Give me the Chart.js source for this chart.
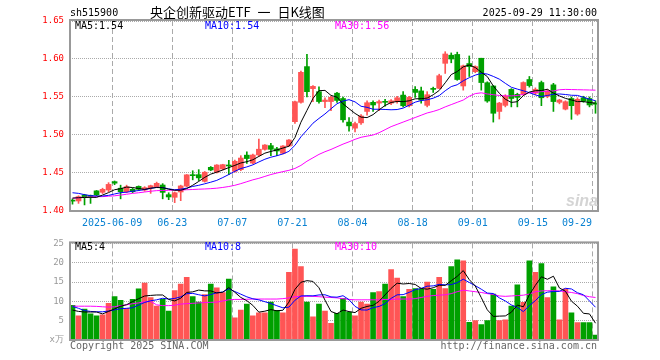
<!DOCTYPE html>
<html>
<head>
<meta charset="utf-8">
<script src="https://cdn.jsdelivr.net/npm/chart.js@4.4.1/dist/chart.umd.min.js"></script>
<style>
  body { margin: 0; width: 660px; height: 360px; background: #fff; position: relative; overflow: hidden; }
  canvas { position: absolute; left: 0; }
  .txt { position: absolute; font: 10px 'DejaVu Sans Mono', monospace; line-height: 1; white-space: pre; }
</style>
</head>
<body>
<canvas id="kline" width="660" height="232" style="top:0"></canvas>
<canvas id="volume" width="660" height="128" style="top:232px"></canvas>

<div class="txt" style="left:70px;top:8px;color:#000">sh515900</div>
<div class="txt" style="left:150px;top:5px;font-family:'Noto Sans CJK SC';font-size:13px;color:#000">央企创新驱动ETF <span style="margin:0 4px">一</span> 日K线图</div>
<div class="txt" style="right:63px;top:8px;color:#000">2025-09-29 11:30:00</div>
<div class="txt" style="left:75px;top:21px;color:#000">MA5:1.54</div>
<div class="txt" style="left:205px;top:21px;color:#0000ff">MA10:1.54</div>
<div class="txt" style="left:335px;top:21px;color:#ff00ff">MA30:1.56</div>
<div class="txt" style="left:75px;top:242px;color:#000">MA5:4</div>
<div class="txt" style="left:205px;top:242px;color:#0000ff">MA10:8</div>
<div class="txt" style="left:335px;top:242px;color:#ff00ff">MA30:10</div>
<div class="txt" style="left:70px;top:341px;color:#666">Copyright 2025 SINA.COM</div>
<div class="txt" style="right:63px;top:341px;color:#666">http://finance.sina.com.cn</div>
<div class="txt" style="left:566px;top:192px;font:italic bold 16px 'Liberation Sans';color:#d4d4d4">sina</div>

<script>
// trading days shown on the chart
const dates = [
  '2025-05-28','2025-05-29','2025-05-30','2025-06-03','2025-06-04','2025-06-05','2025-06-06',
  '2025-06-09','2025-06-10','2025-06-11','2025-06-12','2025-06-13',
  '2025-06-16','2025-06-17','2025-06-18','2025-06-19','2025-06-20',
  '2025-06-23','2025-06-24','2025-06-25','2025-06-26','2025-06-27',
  '2025-06-30','2025-07-01','2025-07-02','2025-07-03','2025-07-04',
  '2025-07-07','2025-07-08','2025-07-09','2025-07-10','2025-07-11',
  '2025-07-14','2025-07-15','2025-07-16','2025-07-17','2025-07-18',
  '2025-07-21','2025-07-22','2025-07-23','2025-07-24','2025-07-25',
  '2025-07-28','2025-07-29','2025-07-30','2025-07-31','2025-08-01',
  '2025-08-04','2025-08-05','2025-08-06','2025-08-07','2025-08-08',
  '2025-08-11','2025-08-12','2025-08-13','2025-08-14','2025-08-15',
  '2025-08-18','2025-08-19','2025-08-20','2025-08-21','2025-08-22',
  '2025-08-25','2025-08-26','2025-08-27','2025-08-28','2025-08-29',
  '2025-09-01','2025-09-02','2025-09-03','2025-09-04','2025-09-05',
  '2025-09-08','2025-09-09','2025-09-10','2025-09-11','2025-09-12',
  '2025-09-15','2025-09-16','2025-09-17','2025-09-18','2025-09-19',
  '2025-09-22','2025-09-23','2025-09-24','2025-09-25','2025-09-26',
  '2025-09-29'
];

const tickLabels = ['2025-06-09','06-23','07-07','07-21','08-04','08-18','09-01','09-15','09-29'];
const priceTicks = [1.40, 1.45, 1.50, 1.55, 1.60, 1.65];
const volTicks = [0, 5, 10, 15, 20, 25];

const opens = [
  1.414,1.4132,1.421,1.4205,1.4265,1.4246,1.4276,1.4386,1.430,1.4254,
  1.4285,1.4324,1.4276,1.4307,1.432,1.4342,1.4215,1.418,1.425,1.4327,
  1.4478,1.4478,1.439,1.4575,1.451,1.4553,1.460,1.4522,1.4544,1.4735,
  1.463,1.4737,1.4811,1.486,1.4818,1.4759,1.4855,1.5175,1.543,1.590,
  1.561,1.557,1.544,1.544,1.555,1.548,1.517,1.509,1.516,1.531,
  1.543,1.542,1.544,1.542,1.544,1.5525,1.5385,1.560,1.558,1.539,
  1.561,1.5614,1.5943,1.605,1.606,1.5645,1.594,1.5833,1.601,1.5688,
  1.5645,1.531,1.539,1.560,1.5535,1.5535,1.573,1.555,1.569,1.551,
  1.566,1.543,1.534,1.548,1.5276,1.549,1.548,1.542
];
const highs = [
  1.416,1.420,1.422,1.421,1.427,1.430,1.4373,1.4395,1.434,1.434,
  1.430,1.433,1.432,1.434,1.438,1.436,1.424,1.425,1.434,1.448,
  1.453,1.4544,1.452,1.4585,1.461,1.4615,1.4667,1.467,1.4728,1.478,
  1.475,1.4947,1.4875,1.489,1.4838,1.486,1.494,1.5445,1.584,1.606,
  1.565,1.5635,1.549,1.551,1.556,1.550,1.523,1.517,1.527,1.545,
  1.545,1.546,1.547,1.5465,1.551,1.557,1.551,1.5636,1.563,1.557,
  1.563,1.580,1.6096,1.608,1.609,1.592,1.604,1.591,1.601,1.570,
  1.565,1.543,1.553,1.561,1.555,1.570,1.577,1.562,1.571,1.560,
  1.568,1.547,1.545,1.550,1.549,1.551,1.550,1.545
];
const lows = [
  1.409,1.410,1.408,1.410,1.420,1.423,1.4254,1.4346,1.416,1.424,
  1.424,1.427,1.426,1.4232,1.431,1.416,1.4149,1.411,1.4136,1.432,
  1.441,1.440,1.438,1.453,1.450,1.454,1.4478,1.451,1.453,1.4627,
  1.462,1.472,1.480,1.4728,1.4728,1.475,1.485,1.5154,1.542,1.550,
  1.544,1.542,1.536,1.532,1.543,1.517,1.505,1.504,1.514,1.526,
  1.531,1.532,1.538,1.540,1.542,1.537,1.537,1.5496,1.542,1.537,
  1.556,1.561,1.581,1.595,1.572,1.559,1.577,1.582,1.559,1.543,
  1.517,1.521,1.537,1.537,1.537,1.552,1.563,1.553,1.5386,1.549,
  1.531,1.541,1.533,1.5206,1.526,1.543,1.537,1.5286
];
const closes = [
  1.413,1.4189,1.4175,1.419,1.421,1.4285,1.435,1.4366,1.4254,1.432,
  1.4254,1.4285,1.4307,1.4333,1.4364,1.4245,1.4185,1.424,1.433,1.4476,
  1.4465,1.4436,1.451,1.454,1.4605,1.461,1.4592,1.4654,1.4697,1.469,
  1.4737,1.4813,1.4868,1.4812,1.479,1.4855,1.4934,1.5438,1.5825,1.557,
  1.564,1.544,1.546,1.5496,1.5455,1.520,1.512,1.515,1.525,1.5425,
  1.5395,1.544,1.543,1.545,1.549,1.5385,1.5495,1.556,1.546,1.553,
  1.560,1.578,1.6066,1.600,1.573,1.591,1.590,1.590,1.569,1.5447,
  1.5286,1.542,1.551,1.548,1.5495,1.569,1.565,1.560,1.549,1.558,
  1.544,1.546,1.5438,1.5386,1.547,1.5447,1.5395,1.5405
];

const ma5 = [
  1.4170,1.4175,1.4178,1.4180,1.4179,1.4210,1.4242,1.4280,1.4293,1.4315,
  1.4309,1.4296,1.4284,1.4300,1.4309,1.4307,1.4287,1.4273,1.4273,1.4295,
  1.4339,1.4389,1.4443,1.4485,1.4511,1.4540,1.4571,1.4600,1.4632,1.4649,
  1.4674,1.4718,1.4761,1.4784,1.4804,1.4828,1.4852,1.4966,1.5168,1.5324,
  1.5481,1.5583,1.5587,1.5521,1.5498,1.5410,1.5346,1.5284,1.5235,1.5229,
  1.5268,1.5332,1.5388,1.5428,1.5441,1.5439,1.5450,1.5476,1.5478,1.5486,
  1.5529,1.5586,1.5687,1.5795,1.5835,1.5897,1.5921,1.5888,1.5826,1.5769,
  1.5645,1.5549,1.5471,1.5429,1.5438,1.5519,1.5565,1.5583,1.5585,1.5602,
  1.5552,1.5514,1.5482,1.5461,1.5439,1.5440,1.5427,1.5420
];
const ma10 = [
  1.4240,1.4232,1.4215,1.4202,1.4197,1.4197,1.4206,1.4224,1.4241,1.4247,
  1.4260,1.4269,1.4282,1.4297,1.4312,1.4308,1.4292,1.4279,1.4287,1.4302,
  1.4323,1.4338,1.4358,1.4379,1.4403,1.4440,1.4480,1.4522,1.4559,1.4580,
  1.4607,1.4645,1.4681,1.4708,1.4727,1.4751,1.4785,1.4864,1.4976,1.5064,
  1.5155,1.5218,1.5277,1.5345,1.5411,1.5446,1.5465,1.5436,1.5378,1.5364,
  1.5339,1.5339,1.5336,1.5332,1.5335,1.5354,1.5391,1.5432,1.5453,1.5464,
  1.5484,1.5518,1.5582,1.5637,1.5661,1.5713,1.5754,1.5788,1.5811,1.5802,
  1.5771,1.5735,1.5680,1.5628,1.5604,1.5582,1.5557,1.5527,1.5507,1.5520,
  1.5536,1.5540,1.5533,1.5523,1.5521,1.5496,1.5471,1.5451
];
const ma30 = [
  1.4167,1.4175,1.4180,1.4185,1.4189,1.4189,1.4195,1.4200,1.4210,1.4220,
  1.4232,1.4240,1.4250,1.4260,1.4268,1.4270,1.4272,1.4275,1.4276,1.4280,
  1.4283,1.4287,1.4290,1.4294,1.4300,1.4310,1.4322,1.4338,1.4360,1.4385,
  1.4410,1.4430,1.4455,1.4480,1.4500,1.4518,1.4535,1.4560,1.4600,1.4655,
  1.4700,1.4745,1.4780,1.4810,1.4845,1.4880,1.4910,1.4943,1.4970,1.4985,
  1.5000,1.5030,1.5070,1.5110,1.5140,1.5170,1.5200,1.5230,1.5260,1.5290,
  1.5310,1.5335,1.5370,1.5400,1.5430,1.5460,1.5510,1.5545,1.5555,1.5540,
  1.5530,1.5520,1.5515,1.5515,1.5520,1.5535,1.5555,1.5560,1.5570,1.5575,
  1.5580,1.5595,1.5600,1.5598,1.5596,1.5594,1.5592,1.5590
];

// volume, in units of 10k lots (x万)
const volumes = [
  9.0,6.25,8.0,6.75,6.25,6.5,9.5,11.25,10.25,8.2,
  10.5,13.25,14.75,11.0,8.75,10.5,7.5,12.8,14.5,16.25,
  11.25,9.8,11.75,14.5,13.5,12.3,15.75,5.75,7.75,9.3,
  6.25,7.0,7.0,9.8,7.7,7.0,17.5,23.5,19.0,9.8,
  6.0,9.3,7.5,4.3,6.9,10.8,7.25,6.25,9.8,9.3,
  12.25,12.5,14.5,18.25,16.0,11.25,13.1,13.3,13.1,15.0,
  13.1,16.25,13.3,19.0,20.75,20.5,4.6,5.0,4.0,5.0,
  11.9,5.0,5.25,8.75,14.25,9.75,20.5,17.5,19.8,11.0,
  13.75,5.25,13.25,7.0,4.5,4.5,4.5,1.25
];
const volMa5 = [
  7.75,7.4,7.25,7.25,7.25,6.75,7.4,8.05,8.75,9.14,
  9.94,10.69,11.39,11.54,11.65,11.65,10.5,10.11,10.81,12.31,
  12.46,12.92,12.71,12.71,12.16,12.37,13.56,12.36,11.01,10.17,
  8.96,7.21,7.46,7.87,7.55,7.7,9.8,13.1,14.94,15.36,
  15.16,13.52,10.32,7.38,6.8,7.76,7.35,7.1,8.2,8.68,
  8.97,10.02,11.67,13.36,14.7,14.5,14.62,14.38,13.35,13.15,
  13.52,14.15,14.15,15.33,16.48,17.96,15.63,13.97,10.97,7.82,
  6.1,6.18,6.23,7.18,9.03,8.6,11.7,14.15,16.36,15.71,
  16.51,13.46,12.61,10.05,8.75,6.9,6.75,4.35
];
const volMa10 = [
  8.7,8.2,7.6,7.4,7.3,7.3,7.5,7.8,8.1,8.2,
  8.35,9.05,9.72,10.15,10.4,10.8,10.6,10.75,11.18,11.98,
  12.06,11.71,11.41,11.76,12.24,12.42,13.24,12.54,11.86,11.17,
  10.67,10.39,9.91,9.44,8.86,8.33,8.5,10.28,11.4,11.46,
  11.43,11.66,11.71,11.16,11.08,11.46,10.44,8.71,7.79,7.74,
  8.37,8.69,9.39,10.78,11.69,11.74,12.32,13.03,13.36,13.93,
  14.01,14.39,14.27,14.34,14.82,15.74,14.89,14.06,13.15,12.15,
  12.03,10.91,10.1,9.08,8.43,7.35,8.94,10.19,11.77,12.37,
  12.56,12.58,13.38,13.21,12.23,11.71,10.11,8.48
];
const volMa30 = [
  8.75,8.75,8.75,8.75,8.7,8.6,8.5,8.6,8.9,9.1,
  9.4,9.6,9.9,10.0,9.1,8.9,8.9,9.0,9.3,9.4,
  9.5,9.6,9.7,9.75,9.8,10.1,10.4,10.5,10.5,10.55,
  10.6,10.6,10.6,10.6,10.6,10.7,10.9,11.2,11.3,11.3,
  11.3,11.2,11.1,11.0,10.9,10.7,10.5,10.4,10.4,10.4,
  10.4,10.4,10.5,10.5,10.6,10.6,10.6,10.7,11.0,11.3,
  11.5,11.6,11.7,12.0,12.5,12.9,12.7,12.5,12.3,12.0,
  11.8,11.4,11.3,11.4,11.5,11.6,11.9,12.5,12.7,12.75,
  12.75,12.7,12.5,12.3,12.0,11.5,11.2,11.0
];

const RED = '#ff5555';
const GREEN = '#00a000';
const GRID = '#aaaaaa';
const MONO = 'DejaVu Sans Mono';

Chart.defaults.animation = false;
Chart.defaults.responsive = false;
Chart.defaults.devicePixelRatio = 1;
Chart.defaults.events = [];
Chart.defaults.plugins.legend.display = false;
Chart.defaults.plugins.tooltip.enabled = false;
Chart.defaults.font.family = MONO;

const n = dates.length;
const xMin = -5 / 12;               // left edge of the first bar
const xMax = n - 1 + 5 / 12;
const gridIdx = tickLabels.map(t => dates.findIndex(d => d.endsWith(t)));
const candleColors = closes.map((c, i) => c >= opens[i] ? RED : GREEN);
const pts = arr => arr.map((v, i) => ({ x: i, y: v }));

// grey box round the plot area
const frame = {
  id: 'frame',
  afterDraw(chart) {
    const { ctx, chartArea: a } = chart;
    ctx.save();
    ctx.strokeStyle = '#999';
    ctx.lineWidth = 2;
    ctx.strokeRect(a.left, a.top - 1, a.right - a.left, a.bottom - a.top + 1);
    ctx.restore();
  }
};

function maLine(arr, color) {
  return {
    type: 'line', data: pts(arr), borderColor: color, borderWidth: 1,
    pointRadius: 0, tension: 0, order: 0, xAxisID: 'x', yAxisID: 'y'
  };
}

// x axis that only draws the dashed date lines
function dateGrid(h) {
  return {
    type: 'linear', bounds: 'data', min: xMin, max: xMax, offset: false,
    afterBuildTicks: s => { s.ticks = gridIdx.map(g => ({ value: g - 5 / 12 })); },
    afterFit: s => { s.height = h; },
    ticks: { display: false },
    grid: { color: GRID, lineWidth: 1, drawTicks: false, offset: false },
    border: { display: false, dash: [5, 3] }
  };
}

new Chart(document.getElementById('kline'), {
  type: 'bar',
  data: {
    datasets: [
      maLine(ma5, '#000000'),
      maLine(ma10, '#0000ff'),
      maLine(ma30, '#ff00ff'),
      {
        type: 'bar', data: opens.map((o, i) => ({ x: i, y: [o, closes[i]] })),
        backgroundColor: candleColors, barThickness: 5, minBarLength: 1,
        grouped: false, order: 1, xAxisID: 'x', yAxisID: 'y'
      },
      {
        type: 'bar', data: lows.map((l, i) => ({ x: i, y: [l, highs[i]] })),
        backgroundColor: candleColors, barThickness: 1,
        grouped: false, order: 2, xAxisID: 'x', yAxisID: 'y'
      }
    ]
  },
  options: {
    layout: { padding: { top: 21, right: 62, left: 0, bottom: 0 } },
    scales: {
      x: dateGrid(0),
      xl: {
        type: 'linear', axis: 'x', position: 'bottom', bounds: 'data', min: xMin, max: xMax, offset: false,
        // keep the last date label inside the box
        afterBuildTicks: s => { s.ticks = gridIdx.map(g => ({ value: Math.min(g - 5 / 12, xMax - 3.5) })); },
        afterFit: s => { s.height = 21; },
        grid: { display: false, drawTicks: false, offset: false },
        border: { display: false },
        ticks: {
          color: '#0a82d2', font: { family: MONO, size: 10 }, padding: 6,
          maxRotation: 0, autoSkip: false,
          callback: (v, i) => tickLabels[i]
        }
      },
      y: {
        type: 'linear', bounds: 'data', min: priceTicks[0], max: priceTicks[priceTicks.length - 1],
        afterBuildTicks: s => { s.ticks = priceTicks.map(v => ({ value: v })); },
        afterFit: s => { s.width = 70; },
        ticks: { color: '#ff0000', font: { family: MONO, size: 9 }, padding: 6, callback: v => v.toFixed(2) },
        grid: { color: GRID, drawTicks: false },
        border: { display: false, dash: [1, 1] }
      }
    }
  },
  plugins: [frame]
});

new Chart(document.getElementById('volume'), {
  type: 'bar',
  data: {
    datasets: [
      maLine(volMa5, '#000000'),
      maLine(volMa10, '#0000ff'),
      maLine(volMa30, '#ff00ff'),
      {
        type: 'bar', data: pts(volumes), backgroundColor: candleColors,
        barThickness: 5, grouped: false, order: 1, xAxisID: 'x', yAxisID: 'y'
      }
    ]
  },
  options: {
    layout: { padding: { top: 8, right: 62, left: 0, bottom: 0 } },
    scales: {
      x: dateGrid(20),
      y: {
        type: 'linear', bounds: 'data', min: volTicks[0], max: volTicks[volTicks.length - 1],
        afterBuildTicks: s => { s.ticks = volTicks.map(v => ({ value: v })); },
        afterFit: s => { s.width = 70; },
        ticks: { color: '#999999', font: { family: MONO, size: 9 }, padding: 6, callback: v => v === 0 ? 'x万' : String(v) },
        grid: { color: GRID, drawTicks: false },
        border: { display: false, dash: [1, 1] }
      }
    }
  },
  plugins: [frame]
});
</script>
</body>
</html>
